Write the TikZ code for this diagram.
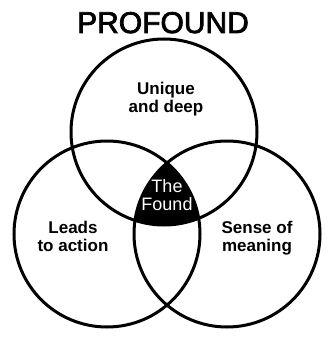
\documentclass[tikz,border=0pt]{standalone}
\usepackage{fontspec}
\setmainfont{Liberation Sans}
\newfontfamily\titlefont{Liberation Sans}[BoldFont={Liberation Sans},BoldFeatures={FakeBold=2.5}]
\begin{document}
\begin{tikzpicture}[x=1pt,y=-1pt,
  ring/.style={draw=black,line width=3pt},
  title/.style={font=\titlefont\bfseries\fontsize{30}{34}\selectfont,anchor=base,inner sep=0pt},
  lbl/.style={font=\bfseries\fontsize{17}{18}\selectfont,anchor=base,inner sep=0pt},
  core/.style={font=\fontsize{18}{18}\selectfont,text=white,anchor=base,inner sep=0pt}]
\useasboundingbox (0,0) rectangle (331,350);
\fill[white] (0,0) rectangle (331,350);
\coordinate (ct) at (164,132);
\coordinate (cl) at (107,234);
\coordinate (cr) at (227,234);
\begin{scope}
  \clip (ct) circle[radius=93];
  \clip (cl) circle[radius=93];
  \fill[black] (cr) circle[radius=93];
\end{scope}
\draw[ring] (ct) circle[radius=93];
\draw[ring] (cl) circle[radius=93];
\draw[ring] (cr) circle[radius=93];
\node[title] (t) at (163,33) {PROFOUND};
\node[lbl] (u1) at (166,95) {Unique};
\node[lbl] (u2) at (166,113) {and deep};
\node[core] (f1) at (167,192) {The};
\node[core] (f2) at (167,210) {Found};
\node[lbl] (l1) at (73,233) {Leads};
\node[lbl] (l2) at (73,251) {to action};
\node[lbl] (s1) at (257,233) {Sense of};
\node[lbl] (s2) at (257,251) {meaning};
\end{tikzpicture}
\end{document}
